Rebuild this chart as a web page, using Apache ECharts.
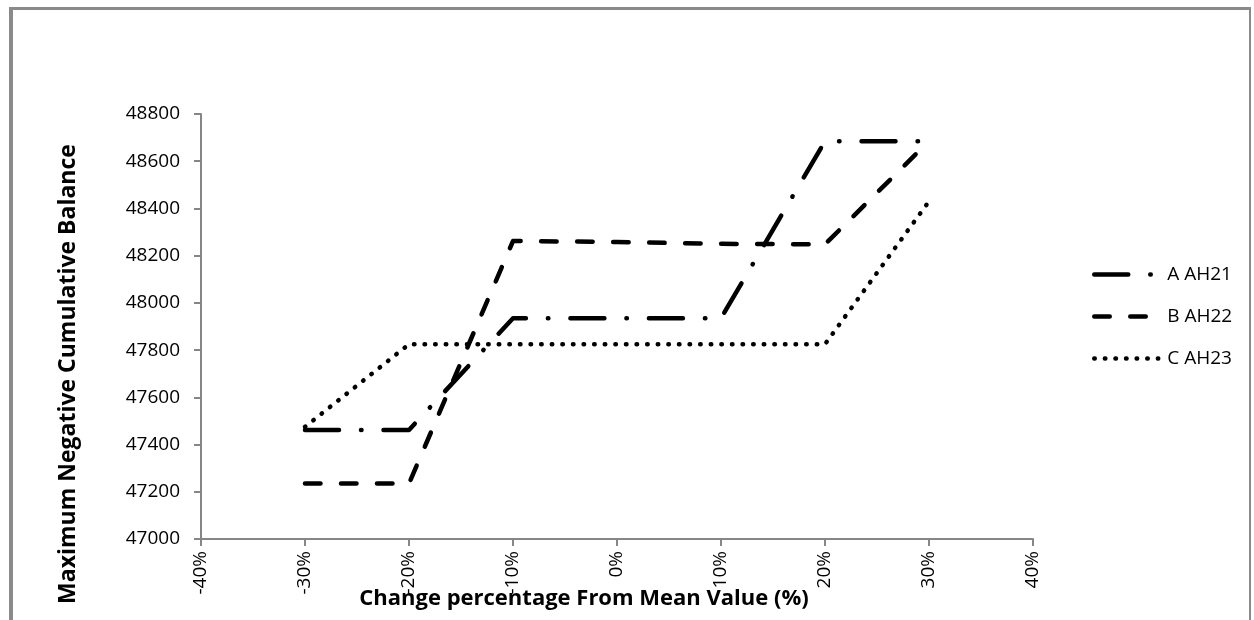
<!DOCTYPE html>
<html>
<head>
<meta charset="utf-8">
<script src="https://cdn.jsdelivr.net/npm/echarts@6/dist/echarts.min.js"></script>
<style>
  html, body { margin: 0; padding: 0; background: #fff; }
  #chart { position: absolute; left: 0; top: 0; width: 1254px; height: 620px; }
  #frame {
    position: absolute; left: 9px; top: 7px; width: 1236px; height: 640px;
    border-left: 4px solid #8a8a8a; border-top: 3px solid #8a8a8a; border-right: 2px solid #8a8a8a;
    pointer-events: none;
  }
</style>
</head>
<body>
<div id="chart"></div>
<div id="frame"></div>
<script>
// Change from the mean value, in percent
const changePct = [-30, -20, -10, 0, 10, 20, 30];

// Maximum negative cumulative balance per scenario
const seriesNames = ['A AH21', 'B AH22', 'C AH23'];
const valuesA = [47462, 47462, 47935, 47935, 47935, 48685, 48685];
const valuesB = [47235, 47235, 48262, 48258, 48250, 48248, 48685];
const valuesC = [47475, 47825, 47825, 47825, 47825, 47825, 48430];

// Axis ticks
const xTicks = [-40, -30, -20, -10, 0, 10, 20, 30, 40];
const yTicks = [47000, 47200, 47400, 47600, 47800, 48000, 48200, 48400, 48600, 48800];

const xTitle = 'Change percentage From Mean Value (%)';
const yTitle = 'Maximum Negative Cumulative Balance';

const FONT = "'Open Sans', 'Noto Sans', sans-serif";
const AXIS_GRAY = '#868686';

// dash patterns: long dash-dot, dash, round dot
const dashPatterns = [[34, 22, 0.5, 22], [15.5, 20.5], [0.5, 10.1]];
const allValues = [valuesA, valuesB, valuesC];

const chart = echarts.init(document.getElementById('chart'), null, { renderer: 'canvas' });

const series = seriesNames.map((name, i) => ({
  name,
  type: 'line',
  symbol: 'none',
  data: changePct.map((x, k) => [x, allValues[i][k]]),
  lineStyle: { color: '#000', width: 4.5, type: dashPatterns[i], cap: 'round', join: 'round' },
  itemStyle: { color: '#000' },
  emphasis: { disabled: true },
  animation: false
}));

chart.setOption({
  animation: false,
  backgroundColor: 'transparent',
  grid: { left: 201, top: 114, right: 221, bottom: 81, containLabel: false },
  xAxis: {
    type: 'value',
    min: xTicks[0],
    max: xTicks[xTicks.length - 1],
    interval: xTicks[1] - xTicks[0],
    axisLine: { show: true, onZero: false, lineStyle: { color: AXIS_GRAY, width: 2 } },
    axisTick: { show: true, length: 7, lineStyle: { color: AXIS_GRAY, width: 2 } },
    splitLine: { show: false },
    axisLabel: {
      rotate: 90, margin: 12, color: '#000', fontFamily: FONT, fontSize: 19,
      formatter: v => v + '%'
    }
  },
  yAxis: {
    type: 'value',
    min: yTicks[0],
    max: yTicks[yTicks.length - 1],
    interval: yTicks[1] - yTicks[0],
    axisLine: { show: true, onZero: false, lineStyle: { color: AXIS_GRAY, width: 2 } },
    axisTick: { show: true, length: 7, lineStyle: { color: AXIS_GRAY, width: 2 } },
    splitLine: { show: false },
    axisLabel: { margin: 21, color: '#000', fontFamily: FONT, fontSize: 19, formatter: v => String(v) }
  },
  legend: {
    orient: 'vertical',
    left: 1092,
    top: 265,
    padding: 0,
    itemWidth: 64,
    itemHeight: 14,
    itemGap: 23,
    selectedMode: false,
    data: seriesNames,
    itemStyle: { opacity: 0 },
    lineStyle: { width: 4.5, cap: 'round' },
    textStyle: { color: '#000', fontFamily: FONT, fontSize: 19, padding: [0, 0, 0, 4] }
  },
  graphic: [
    {
      type: 'text', x: 584, y: 599,
      style: { text: xTitle, fill: '#000', font: `bold 22px ${FONT}`, align: 'center', verticalAlign: 'middle' }
    },
    {
      type: 'text', x: 68, y: 374, rotation: Math.PI / 2,
      style: { text: yTitle, fill: '#000', font: `bold 23px ${FONT}`, align: 'center', verticalAlign: 'middle' }
    }
  ],
  series
});
</script>
</body>
</html>
